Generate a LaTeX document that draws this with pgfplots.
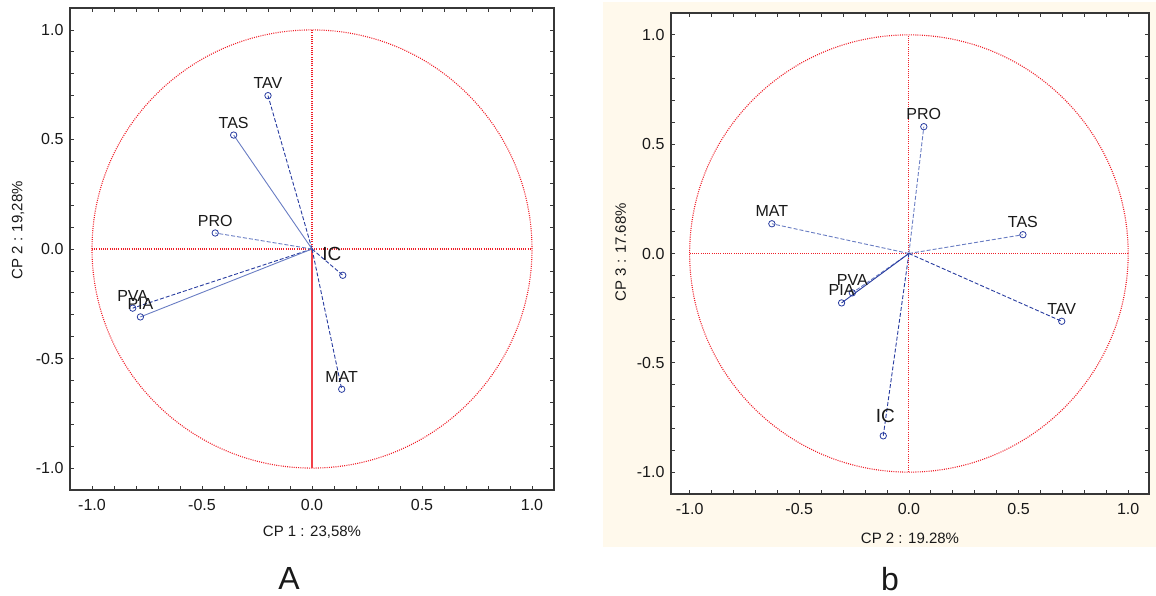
\documentclass[border=0pt]{standalone}
\usepackage{fontspec}
\setmainfont{Liberation Sans}
\usepackage{pgfplots}
\usepackage{pgfplotstable}
\pgfplotsset{compat=1.18}

\definecolor{vblue}{RGB}{40,60,160}
\definecolor{lblue}{RGB}{105,125,195}
\definecolor{cred}{RGB}{240,30,40}
\definecolor{cream}{RGB}{255,249,236}
\definecolor{frame}{RGB}{55,55,55}
\definecolor{txt}{RGB}{25,25,25}

% loadings, left panel (CP1, CP2)
\pgfplotstableread{
x      y      lab
-0.200  0.700 TAV
-0.356  0.520 TAS
-0.440  0.073 PRO
-0.815 -0.270 PVA
-0.780 -0.310 PIA
 0.135 -0.640 MAT
}\left
\pgfplotstableread{
x      y      lab
 0.140 -0.120 IC
}\leftic
% loadings, right panel (CP2, CP3)
\pgfplotstableread{
x      y      lab
 0.068  0.580 PRO
-0.625  0.136 MAT
 0.520  0.086 TAS
 0.697 -0.310 TAV
-0.258 -0.180 PVA
-0.307 -0.226 PIA
}\right
\pgfplotstableread{
x      y      lab
-0.117 -0.834 IC
}\rightic

\tikzset{
  ref/.style={cred, line width=1.1pt, dash pattern=on 1pt off 1.2pt},
  vec/.style={vblue, line width=0.9pt, dash pattern=on 4pt off 2pt},
  vecs/.style={lblue, line width=0.9pt},
}
\pgfplotsset{
  pca/.style={
    scale only axis, anchor=south west,
    xmin=-1.1, xmax=1.1, ymin=-1.1, ymax=1.1,
    axis line style={frame, line width=1.4pt},
    xtick={-1,-0.5,0,0.5,1}, ytick={-1,-0.5,0,0.5,1},
    minor tick num=4,
    tick align=inside, major tick length=4pt, minor tick length=4pt,
    tick style={frame, line width=0.8pt},
    /pgf/number format/assume math mode=true,
    /pgf/number format/fixed, /pgf/number format/fixed zerofill,
    /pgf/number format/precision=1,
    ticklabel style={font=\fontsize{16}{16}\selectfont, text=txt},
    xticklabel style={yshift=-6pt},
    yticklabel style={xshift=-3pt},
    label style={font=\fontsize{15}{15}\selectfont, text=txt},
    clip=false,
  },
  pts/.style={only marks, mark=o, mark size=3.2pt, vblue,
    mark options={line width=0.8pt},
    nodes near coords, point meta=explicit symbolic,
    every node near coord/.append style={anchor=base, yshift=7pt, inner sep=0pt,
      font=\fontsize{16}{16}\selectfont, text=txt}},
}

\begin{document}
\begin{tikzpicture}
\useasboundingbox (0,0) rectangle (1156pt,596pt);
\fill[cream] (603pt,49pt) rectangle (1156pt,594pt);

% ---------- panel A ----------
\begin{axis}[pca, at={(70pt,106pt)}, width=484pt, height=482pt,
  xlabel={CP 1 : 23,58\%}, ylabel={CP 2 : 19,28\%},
  xlabel style={at={(axis description cs:0.5,0)}, anchor=center, yshift=-42pt},
  ylabel style={at={(axis description cs:-0.107,0.539)}, anchor=center},
]
\draw[ref] (axis cs:0,0) ellipse [x radius=1, y radius=1];
\draw[ref] (axis cs:-1,0) -- (axis cs:1,0);
\draw[ref] (axis cs:0,0) -- (axis cs:0,1);
\draw[cred!85, line width=1.3pt] (axis cs:0,0) -- (axis cs:0,-1);
\addplot[vec]  coordinates {(0,0) (-0.200,0.700)};
\addplot[vecs] coordinates {(0,0) (-0.356,0.520)};
\addplot[vec, lblue] coordinates {(0,0) (-0.440,0.073)};
\addplot[vec]  coordinates {(0,0) (-0.815,-0.270)};
\addplot[vecs] coordinates {(0,0) (-0.780,-0.310)};
\addplot[vec]  coordinates {(0,0) (0.140,-0.120)};
\addplot[vec]  coordinates {(0,0) (0.135,-0.640)};
\addplot[pts] table[meta=lab] {\left};
\addplot[pts, every node near coord/.append style={xshift=-11pt, yshift=8pt,
  font=\fontsize{19}{19}\selectfont}] table[meta=lab] {\leftic};
\end{axis}

% ---------- panel b ----------
\begin{axis}[pca, at={(671pt,102pt)}, width=478pt, height=481pt,
  xmin=-1.085, xmax=1.095,
  axis background/.style={fill=white},
  xlabel={CP 2 : 19.28\%}, ylabel={CP 3 : 17.68\%},
  xlabel style={at={(axis description cs:0.5,0)}, anchor=center, yshift=-44pt},
  ylabel style={at={(axis description cs:-0.105,0.503)}, anchor=center},
]
\draw[ref] (axis cs:0,0) ellipse [x radius=1, y radius=1];
\draw[ref] (axis cs:-1,0) -- (axis cs:1,0);
\draw[ref] (axis cs:0,-1) -- (axis cs:0,1);
\addplot[vec, lblue] coordinates {(0,0) (0.068,0.580)};
\addplot[vec, lblue] coordinates {(0,0) (-0.625,0.136)};
\addplot[vec, lblue] coordinates {(0,0) (0.520,0.086)};
\addplot[vec]  coordinates {(0,0) (0.697,-0.310)};
\addplot[vec, lblue] coordinates {(0,0) (-0.258,-0.180)};
\addplot[vecs, vblue] coordinates {(0,0) (-0.307,-0.226)};
\addplot[vec]  coordinates {(0,0) (-0.117,-0.834)};
\addplot[pts] table[meta=lab] {\right};
\addplot[pts, every node near coord/.append style={xshift=2pt, yshift=6pt,
  font=\fontsize{19}{19}\selectfont}] table[meta=lab] {\rightic};
\end{axis}

\node[anchor=base, font=\fontsize{32}{32}\selectfont, text=txt] at (289pt,6pt) {A};
\node[anchor=base, font=\fontsize{32}{32}\selectfont, text=txt] at (890pt,5pt) {b};
\end{tikzpicture}
\end{document}
